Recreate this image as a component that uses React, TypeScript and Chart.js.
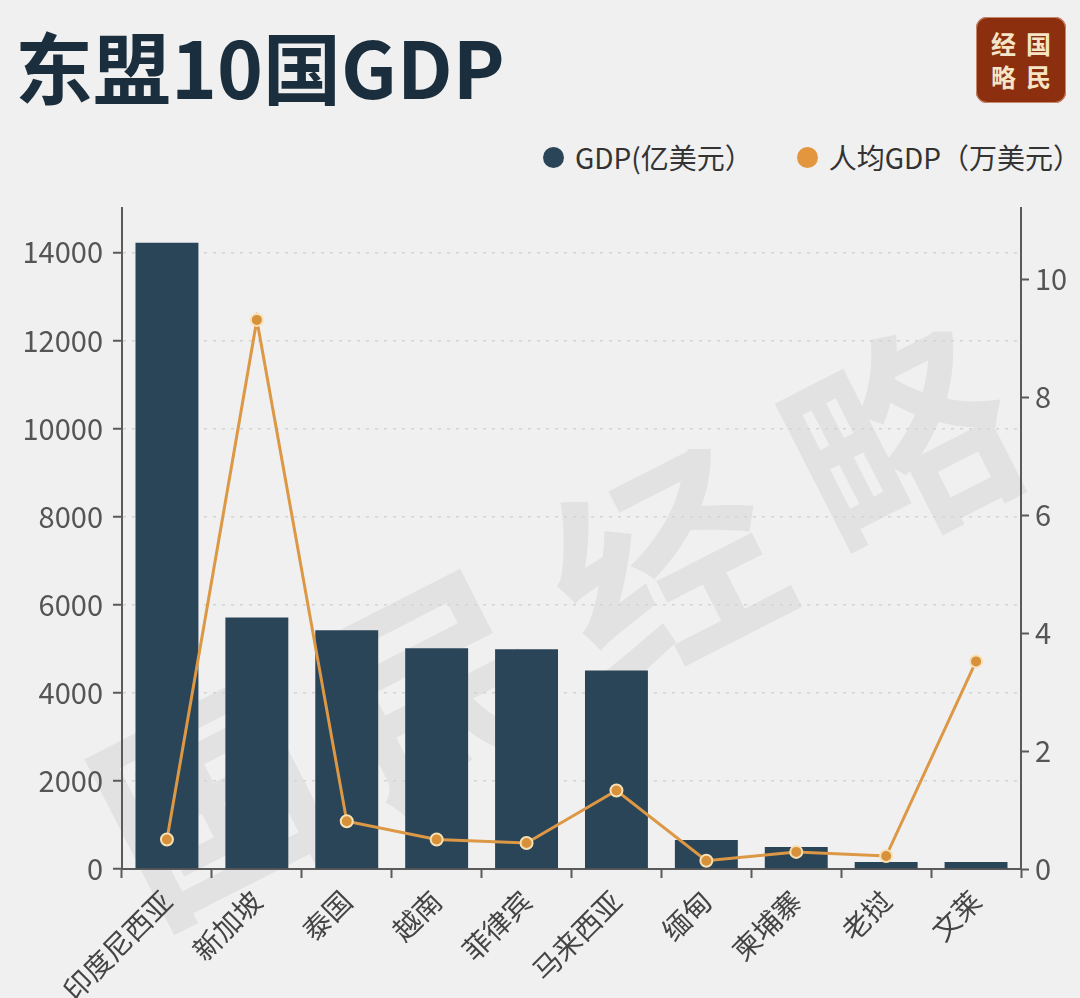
import React, { useEffect, useRef } from "react";
import { Chart, registerables } from "chart.js";

Chart.register(...registerables);

const title = "东盟10国GDP";
const categories = ["印度尼西亚", "新加坡", "泰国", "越南", "菲律宾", "马来西亚", "缅甸", "柬埔寨", "老挝", "文莱"];
const gdpValues = [14220, 5710, 5420, 5010, 4990, 4510, 660, 500, 160, 160];
const perCapitaValues = [0.5, 9.31, 0.81, 0.5, 0.44, 1.33, 0.14, 0.29, 0.22, 3.52];
const seriesNames = ["GDP(亿美元）", "人均GDP（万美元）"];
const leftTicks = [0, 2000, 4000, 6000, 8000, 10000, 12000, 14000];
const rightTicks = [0, 2, 4, 6, 8, 10];
const leftAxisMax = 15000;
const rightAxisMax = 11.2;
const watermarkChars = ["国", "民", "经", "略"];
const logoChars = ["经", "国", "略", "民"];

const FONT = '"Noto Sans CJK SC", "Noto Sans", sans-serif';
const BAR_COLOR = "#2b4558";
const LINE_COLOR = "#dc9845";
const AXIS_COLOR = "#5a5a5a";

export default function App() {
  const canvasRef = useRef<HTMLCanvasElement | null>(null);

  useEffect(() => {
    const canvas = canvasRef.current;
    if (!canvas) return;
    const chart = new Chart(canvas, {
      data: {
        labels: categories,
        datasets: [
          {
            type: "line",
            label: seriesNames[1],
            data: perCapitaValues,
            yAxisID: "y1",
            borderColor: LINE_COLOR,
            borderWidth: 3,
            pointRadius: 6,
            pointBackgroundColor: "#d8913b",
            pointBorderColor: "#f7e0b5",
            pointBorderWidth: 2,
            tension: 0,
            order: 1,
          },
          {
            type: "bar",
            label: seriesNames[0],
            data: gdpValues,
            yAxisID: "y",
            backgroundColor: BAR_COLOR,
            barPercentage: 0.7,
            categoryPercentage: 1,
            order: 2,
          },
        ],
      },
      options: {
        animation: false,
        responsive: true,
        maintainAspectRatio: false,
        layout: { padding: { top: 7, left: 0, right: 0, bottom: 0 } },
        plugins: {
          legend: { display: false },
          tooltip: { enabled: false },
        },
        scales: {
          x: {
            offset: true,
            grid: {
              display: true,
              drawOnChartArea: false,
              drawTicks: true,
              tickLength: 9,
              tickColor: AXIS_COLOR,
              tickWidth: 2,
            },
            border: { display: true, color: AXIS_COLOR, width: 2 },
            ticks: {
              autoSkip: false,
              minRotation: 45,
              maxRotation: 45,
              color: "#444",
              padding: 6,
              font: { family: FONT, size: 28 },
            },
            afterFit: (scale: any) => {
              scale.height = 129;
            },
          },
          y: {
            position: "left",
            min: 0,
            max: leftAxisMax,
            afterBuildTicks: (scale: any) => {
              scale.ticks = leftTicks.map((v) => ({ value: v }));
            },
            ticks: {
              color: "#555",
              padding: 10,
              font: { family: FONT, size: 29 },
              callback: (v: any) => String(v),
            },
            grid: {
              display: true,
              drawOnChartArea: true,
              drawTicks: true,
              tickLength: 9,
              tickColor: AXIS_COLOR,
              tickWidth: 2,
              lineWidth: 1.5,
              color: (ctx: any) => (ctx.tick && ctx.tick.value === 0 ? "rgba(0,0,0,0)" : "#d4d4d4"),
            },
            border: { display: true, color: AXIS_COLOR, width: 2, dash: [3, 6] },
            afterFit: (scale: any) => {
              scale.width = 122;
            },
          },
          y1: {
            position: "right",
            min: 0,
            max: rightAxisMax,
            afterBuildTicks: (scale: any) => {
              scale.ticks = rightTicks.map((v) => ({ value: v }));
            },
            ticks: {
              color: "#555",
              padding: 6,
              font: { family: FONT, size: 29 },
              callback: (v: any) => String(v),
            },
            grid: {
              display: true,
              drawOnChartArea: false,
              drawTicks: true,
              tickLength: 8,
              tickColor: AXIS_COLOR,
              tickWidth: 2,
            },
            border: { display: true, color: AXIS_COLOR, width: 2 },
            afterFit: (scale: any) => {
              scale.width = 59;
            },
          },
        },
      },
    } as any);
    return () => chart.destroy();
  }, []);

  const wmPositions = [
    { x: 205, y: 790 },
    { x: 430, y: 675 },
    { x: 660, y: 555 },
    { x: 895, y: 430 },
  ];

  return (
    <div
      style={{
        position: "absolute",
        left: 0,
        top: 0,
        width: 1080,
        height: 998,
        background: "#f0f0f0",
        overflow: "hidden",
        fontFamily: FONT,
      }}
    >
      {watermarkChars.map((c, i) => (
        <div
          key={i}
          style={{
            position: "absolute",
            left: wmPositions[i].x - 130,
            top: wmPositions[i].y - 130,
            width: 260,
            height: 260,
            lineHeight: "260px",
            textAlign: "center",
            fontSize: 220,
            fontWeight: 700,
            color: "rgba(150,150,150,0.15)",
            transform: "rotate(-27deg)",
          }}
        >
          {c}
        </div>
      ))}
      <div
        style={{
          position: "absolute",
          left: 15,
          top: 15,
          fontSize: 78,
          fontWeight: 700,
          color: "#1b2e3d",
          lineHeight: "100px",
          whiteSpace: "nowrap",
        }}
      >
        {title}
      </div>
      <div
        style={{
          position: "absolute",
          left: 976,
          top: 17,
          width: 90,
          height: 86,
          borderRadius: 11,
          background: "#8c2f0e",
          boxShadow: "0 0 0 1px #c8876a inset",
          display: "grid",
          gridTemplateColumns: "1fr 1fr",
          gridTemplateRows: "1fr 1fr",
          padding: "10px 10px",
          boxSizing: "border-box",
          color: "#f6e4c6",
          fontSize: 25,
          fontWeight: 700,
          textAlign: "center",
          lineHeight: "33px",
        }}
      >
        {logoChars.map((c, i) => (
          <span key={i}>{c}</span>
        ))}
      </div>
      <div
        style={{
          position: "absolute",
          left: 543,
          top: 137,
          display: "flex",
          alignItems: "center",
          fontSize: 28,
          color: "#333",
          whiteSpace: "nowrap",
          lineHeight: "40px",
        }}
      >
        <span style={{ width: 21, height: 21, borderRadius: "50%", background: BAR_COLOR, display: "inline-block" }} />
        <span style={{ marginLeft: 11 }}>{seriesNames[0]}</span>
        <span
          style={{
            width: 21,
            height: 21,
            borderRadius: "50%",
            background: "#e3963d",
            display: "inline-block",
            marginLeft: 44,
          }}
        />
        <span style={{ marginLeft: 11 }}>{seriesNames[1]}</span>
      </div>
      <div style={{ position: "absolute", left: 0, top: 181, width: 1080, height: 817 }}>
        <canvas ref={canvasRef} />
      </div>
    </div>
  );
}
